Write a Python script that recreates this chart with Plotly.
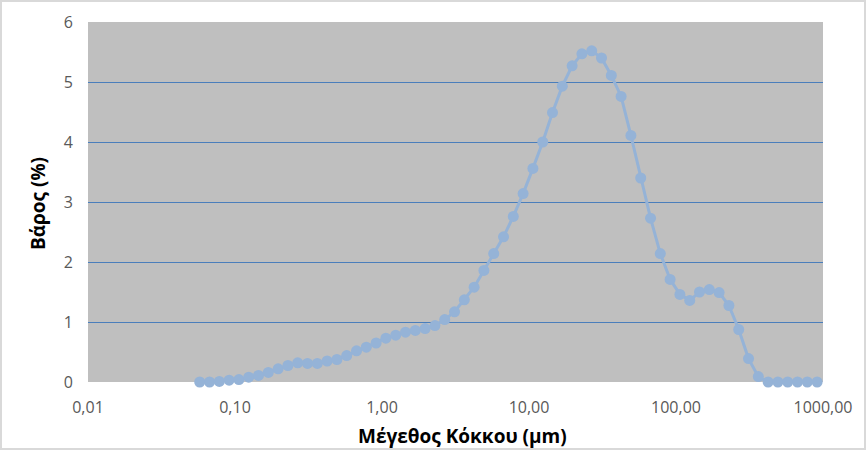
import plotly.graph_objects as go

# particle size classes (μm), 15 per decade
sizes = [0.05754, 0.06710, 0.07820, 0.09120, 0.1063, 0.1240, 0.1445, 0.1685,
         0.1965, 0.2291, 0.2671, 0.3114, 0.3631, 0.4233, 0.4934, 0.5754,
         0.6710, 0.7820, 0.9120, 1.063, 1.240, 1.445, 1.685, 1.965,
         2.291, 2.671, 3.114, 3.631, 4.233, 4.934, 5.754, 6.710,
         7.820, 9.120, 10.63, 12.40, 14.45, 16.85, 19.65, 22.91,
         26.71, 31.14, 36.31, 42.33, 49.34, 57.54, 67.10, 78.20,
         91.20, 106.3, 124.0, 144.5, 168.5, 196.5, 229.1, 267.1,
         311.4, 363.1, 423.3, 493.4, 575.4, 671.0, 782.0, 912.0]

# weight percent
weight = [0.00, 0.00, 0.01, 0.03, 0.04, 0.08, 0.11, 0.16,
          0.22, 0.275, 0.32, 0.31, 0.31, 0.35, 0.375, 0.44,
          0.52, 0.58, 0.65, 0.73, 0.78, 0.83, 0.86, 0.89,
          0.94, 1.04, 1.17, 1.37, 1.58, 1.86, 2.14, 2.42,
          2.76, 3.14, 3.56, 4.00, 4.49, 4.93, 5.27, 5.47,
          5.52, 5.40, 5.11, 4.76, 4.11, 3.40, 2.73, 2.14,
          1.71, 1.46, 1.36, 1.50, 1.54, 1.49, 1.275, 0.875,
          0.39, 0.09, 0.00, 0.00, 0.00, 0.00, 0.00, 0.00]

x_ticks = [0.01, 0.1, 1, 10, 100, 1000]
x_labels = ["0,01", "0,10", "1,00", "10,00", "100,00", "1000,00"]

fig = go.Figure()
fig.add_trace(go.Scatter(
    x=sizes, y=weight, mode="lines+markers",
    line=dict(color="#95B3D7", width=3),
    marker=dict(color="#95B3D7", size=11),
    cliponaxis=False, showlegend=False,
))

fig.update_layout(
    width=867, height=451,
    margin=dict(l=88, r=44, t=22, b=69),
    paper_bgcolor="white",
    plot_bgcolor="#BFBFBF",
    font=dict(family="Open Sans", size=16, color="#595959"),
    xaxis=dict(type="log", range=[-2, 3], tickvals=x_ticks, ticktext=x_labels,
               showgrid=False, zeroline=False, showline=False, ticks="",
               ticklabelstandoff=14),
    yaxis=dict(range=[0, 6], dtick=1, showgrid=True, gridcolor="#4A7EBB",
               gridwidth=1, zeroline=False, showline=False, ticks="",
               ticklabelstandoff=14),
    annotations=[
        dict(text="<b>Μέγεθος Κόκκου (μm)</b>", showarrow=False,
             font=dict(size=19, color="black")),
        dict(text="<b>Βάρος (%)</b>", showarrow=False, textangle=-90,
             font=dict(size=19, color="black")),
    ],
    shapes=[dict(type="rect", xref="paper", yref="paper",
                 line=dict(color="#D9D9D9", width=2))],
)

# place axis titles and frame in pixel terms (plot area 735 x 360)
fig.layout.annotations[0].update(xref="paper", yref="paper", x=(462 - 88) / 735,
                                 y=-(436 - 382) / 360, yanchor="middle")
fig.layout.annotations[1].update(xref="paper", yref="paper", x=-(88 - 38) / 735,
                                 y=(382 - 203) / 360, xanchor="center", yanchor="middle")
fig.layout.shapes[0].update(x0=-(88 - 1) / 735, x1=1 + (44 - 2) / 735,
                            y0=-(69 - 2) / 360, y1=1 + (22 - 1) / 360)

fig.write_html("out.html", config={"displayModeBar": False},
               post_script="document.body.style.margin='0';")
